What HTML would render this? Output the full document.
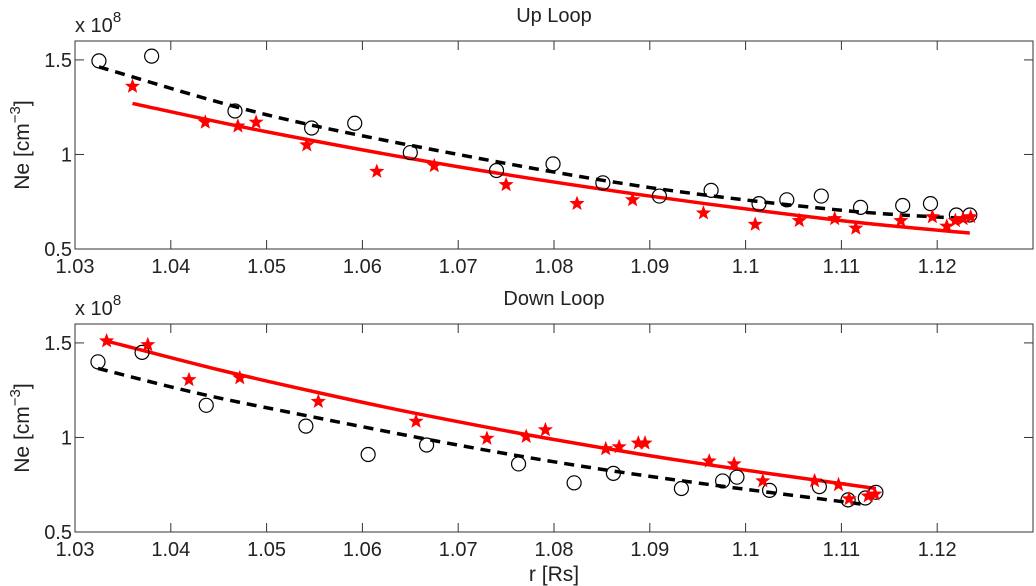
<!DOCTYPE html>
<html><head><meta charset="utf-8"><style>
body{margin:0;background:#fff;}
svg{display:block;font-family:"Liberation Sans",Helvetica,sans-serif;}
</style></head><body>
<svg id="c" width="1036" height="586" viewBox="0 0 1036 586" xmlns="http://www.w3.org/2000/svg"></svg>
<script>
const xTicks=[1.03,1.04,1.05,1.06,1.07,1.08,1.09,1.1,1.11,1.12];
const xTickLabels=["1.03","1.04","1.05","1.06","1.07","1.08","1.09","1.1","1.11","1.12"];
const yTicks=[0.5,1,1.5];
const yTickLabels=["0.5","1","1.5"];
// Up loop
const upCircR=[1.0325,1.038,1.0467,1.0547,1.0592,1.065,1.074,1.0799,1.0851,1.091,1.0964,1.1014,1.1043,1.1079,1.112,1.1164,1.1193,1.122,1.1234];
const upCircNe=[1.495,1.52,1.23,1.14,1.165,1.01,0.915,0.95,0.85,0.78,0.81,0.74,0.76,0.78,0.72,0.73,0.74,0.68,0.68];
const upStarR=[1.036,1.0436,1.047,1.0489,1.0542,1.0615,1.0675,1.075,1.0824,1.0882,1.0956,1.101,1.1056,1.1093,1.1115,1.1162,1.1195,1.121,1.1219,1.1227,1.1235];
const upStarNe=[1.36,1.17,1.15,1.17,1.05,0.91,0.94,0.84,0.74,0.76,0.69,0.63,0.65,0.66,0.61,0.65,0.67,0.62,0.65,0.66,0.67];
const upFitBlackR=[1.0325,1.05,1.07,1.09,1.11,1.1234];
const upFitBlackNe=[1.463,1.21,1.0,0.825,0.705,0.66];
const upFitRedR=[1.036,1.05,1.07,1.09,1.11,1.1234];
const upFitRedNe=[1.27,1.12,0.935,0.78,0.65,0.584];
// Down loop
const dnCircR=[1.0324,1.037,1.0437,1.0541,1.0606,1.0667,1.0763,1.0821,1.0862,1.0933,1.0976,1.0991,1.1025,1.1077,1.1107,1.1125,1.1136];
const dnCircNe=[1.40,1.45,1.17,1.06,0.91,0.96,0.86,0.76,0.81,0.73,0.77,0.79,0.72,0.74,0.67,0.68,0.71];
const dnStarR=[1.0333,1.0376,1.0419,1.0472,1.0554,1.0656,1.073,1.0771,1.0791,1.0854,1.0868,1.0888,1.0895,1.0962,1.0988,1.1018,1.1072,1.1097,1.1108,1.1128,1.1135];
const dnStarNe=[1.51,1.49,1.305,1.315,1.19,1.085,0.995,1.005,1.04,0.94,0.95,0.97,0.97,0.875,0.86,0.77,0.77,0.75,0.675,0.69,0.70];
const dnFitRedR=[1.0333,1.045,1.0554,1.0656,1.08,1.095,1.1136];
const dnFitRedNe=[1.51,1.358,1.237,1.127,0.989,0.864,0.73];
const dnFitBlackR=[1.0324,1.0427,1.0527,1.0691,1.082,1.0952,1.1125];
const dnFitBlackNe=[1.365,1.235,1.13,0.968,0.855,0.758,0.645];

const NS="http://www.w3.org/2000/svg";
const svg=document.getElementById('c');
const X0=75,X1=1033,XMIN=1.03,XMAX=1.13,YMIN=0.5,YMAX=1.6;
function sx(v){return X0+(v-XMIN)/(XMAX-XMIN)*(X1-X0);}
function mk(tag,attrs,parent){const e=document.createElementNS(NS,tag);for(const k in attrs)e.setAttribute(k,attrs[k]);(parent||svg).appendChild(e);return e;}
function starPts(cx,cy,R){let p=[];for(let i=0;i<10;i++){const r=i%2?R*0.42:R;const a=-Math.PI/2+i*Math.PI/5;p.push((cx+r*Math.cos(a)).toFixed(1)+","+(cy+r*Math.sin(a)).toFixed(1));}return p.join(" ");}
function smoothPath(pts){
  let d='M'+pts[0][0]+','+pts[0][1];
  for(let i=0;i<pts.length-1;i++){
    const p0=pts[i-1]||pts[i],p1=pts[i],p2=pts[i+1],p3=pts[i+2]||p2;
    const c1=[p1[0]+(p2[0]-p0[0])/6,p1[1]+(p2[1]-p0[1])/6];
    const c2=[p2[0]-(p3[0]-p1[0])/6,p2[1]-(p3[1]-p1[1])/6];
    d+=' C'+c1[0]+','+c1[1]+' '+c2[0]+','+c2[1]+' '+p2[0]+','+p2[1];
  }
  return d;
}

function panel(name,top,bottom,title,circR,circNe,starR,starNe,blR,blNe,rdR,rdNe){
  const g=mk('g',{});
  
  
  const sy=v=>bottom-(v-YMIN)/(YMAX-YMIN)*(bottom-top);
  const box=mk('rect',{x:X0,y:top,width:X1-X0,height:bottom-top,fill:'none',stroke:'#333','stroke-width':1},g);
  
  
  xTicks.forEach((t,i)=>{
    const x=sx(t);
    mk('line',{x1:x,y1:bottom,x2:x,y2:bottom-9,stroke:'#333'},g);
    mk('line',{x1:x,y1:top,x2:x,y2:top+9,stroke:'#333'},g);
    const tx=mk('text',{x:x,y:bottom+24,'font-size':20,'text-anchor':'middle',fill:'#222'},g);
    tx.textContent=xTickLabels[i];
    
    
  });
  yTicks.forEach((t,i)=>{
    const y=sy(t);
    mk('line',{x1:X0,y1:y,x2:X0+9,y2:y,stroke:'#333'},g);
    mk('line',{x1:X1,y1:y,x2:X1-9,y2:y,stroke:'#333'},g);
    const tx=mk('text',{x:X0-3,y:y+7,'font-size':20,'text-anchor':'end',fill:'#222'},g);
    tx.textContent=yTickLabels[i];
    
    
  });
  const ex=mk('text',{x:X0,y:top-9,'font-size':20,fill:'#222'},g);
  ex.innerHTML='x 10<tspan dy="-10" font-size="15">8</tspan>';
  
  
  const tt=mk('text',{x:(X0+X1)/2,y:top-19,'font-size':20,'text-anchor':'middle',fill:'#222'},g);
  tt.textContent=title;
  
  
  const yl=mk('text',{transform:`translate(29,${(top+bottom)/2}) rotate(-90)`,'font-size':21,'text-anchor':'middle',fill:'#222'},g);
  yl.innerHTML='Ne [cm<tspan dy="-9" font-size="15">−3</tspan><tspan dy="9">]</tspan>';
  
  
  const bl=mk('path',{d:smoothPath(blR.map((r,i)=>[sx(r),sy(blNe[i])])),fill:'none',stroke:'#000','stroke-width':3.5,'stroke-dasharray':'10,7'},g);
  
  
  const rl=mk('path',{d:smoothPath(rdR.map((r,i)=>[sx(r),sy(rdNe[i])])),fill:'none',stroke:'#f00','stroke-width':3.5},g);
  
  
  circR.forEach((r,i)=>{
    const c=mk('circle',{cx:sx(r),cy:sy(circNe[i]),r:7,fill:'none',stroke:'#000','stroke-width':1.2},g);
    
    
  });
  starR.forEach((r,i)=>{
    const s=mk('polygon',{points:starPts(sx(r),sy(starNe[i]),8),fill:'#f00'},g);
    
    
  });
}
panel('up-loop',41,249,'Up Loop',upCircR,upCircNe,upStarR,upStarNe,upFitBlackR,upFitBlackNe,upFitRedR,upFitRedNe);
panel('down-loop',324,532,'Down Loop',dnCircR,dnCircNe,dnStarR,dnStarNe,dnFitBlackR,dnFitBlackNe,dnFitRedR,dnFitRedNe);
const xl=mk('text',{x:554,y:581,'font-size':21,'text-anchor':'middle',fill:'#222'});
xl.textContent='r [Rs]';


</script>
</body></html>
